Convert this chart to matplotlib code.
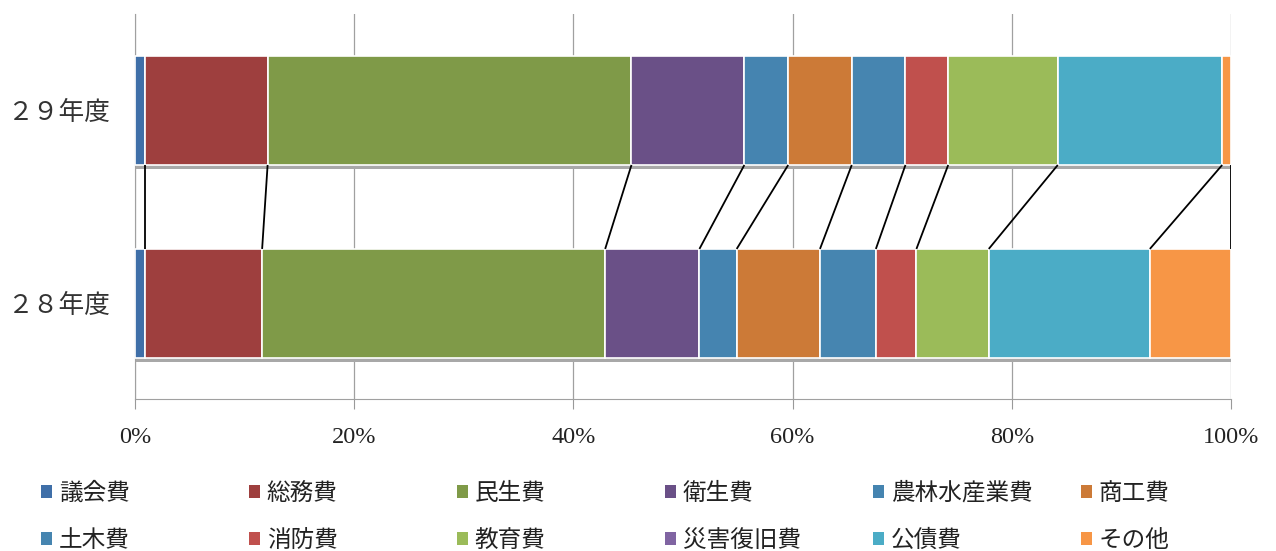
import matplotlib
matplotlib.use("Agg")
import matplotlib.pyplot as plt
import matplotlib.patheffects as pe
from matplotlib.patches import Patch
import numpy as np

plt.rcParams["font.family"] = ["Noto Sans CJK JP", "DejaVu Sans"]

# 歳出の構成比 (%)
years = ["２８年度", "２９年度"]
categories = ["議会費", "総務費", "民生費", "衛生費", "農林水産業費", "商工費",
              "土木費", "消防費", "教育費", "災害復旧費", "公債費", "その他"]
share_h28 = [0.9, 10.7, 31.3, 8.6, 3.4, 7.6, 5.1, 3.7, 6.6, 0.0, 14.7, 7.4]
share_h29 = [0.9, 11.2, 33.2, 10.3, 4.0, 5.8, 4.9, 3.9, 10.0, 0.0, 15.0, 0.8]
colors = ["#3F6FA8", "#9E3F3E", "#7F9A48", "#6A5087", "#4584B0", "#CC7A37",
          "#4685B0", "#C0504D", "#9BBB59", "#8064A2", "#4BACC6", "#F79646"]
xticks = [0, 20, 40, 60, 80, 100]

bar_h = 0.565
fig = plt.figure(figsize=(12.76, 5.51), dpi=100)
ax = fig.add_axes([0.1058, 0.2759, 0.8589, 0.6987])

rows = [np.array(share_h28, float), np.array(share_h29, float)]
rows = [r / r.sum() * 100 for r in rows]
shadow = [pe.SimplePatchShadow(offset=(0.8, -3.0), shadow_rgbFace="#a8a8a8", alpha=1.0),
          pe.Normal()]
for yi, vals in enumerate(rows):
    left = np.concatenate([[0], np.cumsum(vals)[:-1]])
    bars = ax.barh(yi, vals, left=left, height=bar_h, color=colors,
                   edgecolor="white", linewidth=1.2, zorder=3)
    for b in bars:
        b.set_path_effects(shadow)

# series lines between the two bars
cum28 = np.cumsum(rows[0])
cum29 = np.cumsum(rows[1])
for i in range(len(categories)):
    if i > 0 and rows[0][i] == 0 and rows[1][i] == 0:
        continue
    ax.plot([cum29[i], cum28[i]], [1 - bar_h / 2, bar_h / 2],
            color="black", lw=1.3, zorder=4, solid_capstyle="butt")

ax.set_xlim(0, 100)
ax.set_ylim(-0.495, 1.5)
ax.set_xticks(xticks)
ax.set_xticklabels([f"{t}%" for t in xticks], fontfamily="Liberation Serif",
                   fontsize=17.5, color="#222222")
ax.set_yticks([0, 1])
ax.set_yticklabels(years, fontsize=18.5, color="#333333")
ax.tick_params(axis="y", length=0, pad=18)
ax.tick_params(axis="x", length=7, color="#999999", pad=13)
ax.grid(axis="x", color="#a0a0a0", lw=0.9)
ax.set_axisbelow(True)
for s in ["top", "right"]:
    ax.spines[s].set_visible(False)
ax.spines["left"].set_color("#a0a0a0")
ax.spines["bottom"].set_color("#a0a0a0")

# legend: six columns, row-major, equal column spacing
handles = [Patch(facecolor=c, edgecolor="none") for c in colors]
col_x = [41, 249, 457, 665, 873, 1081]
for j in range(6):
    fig.legend(handles=[handles[j], handles[j + 6]],
               labels=[categories[j], categories[j + 6]],
               loc="upper left", bbox_to_anchor=(col_x[j] / 1276, 1 - 482 / 551),
               frameon=False, fontsize=17, handlelength=0.45, handleheight=0.45,
               handletextpad=0.3, borderpad=0, borderaxespad=0,
               labelspacing=1.0, labelcolor="#222222")

fig.savefig("out.png", dpi=100)
